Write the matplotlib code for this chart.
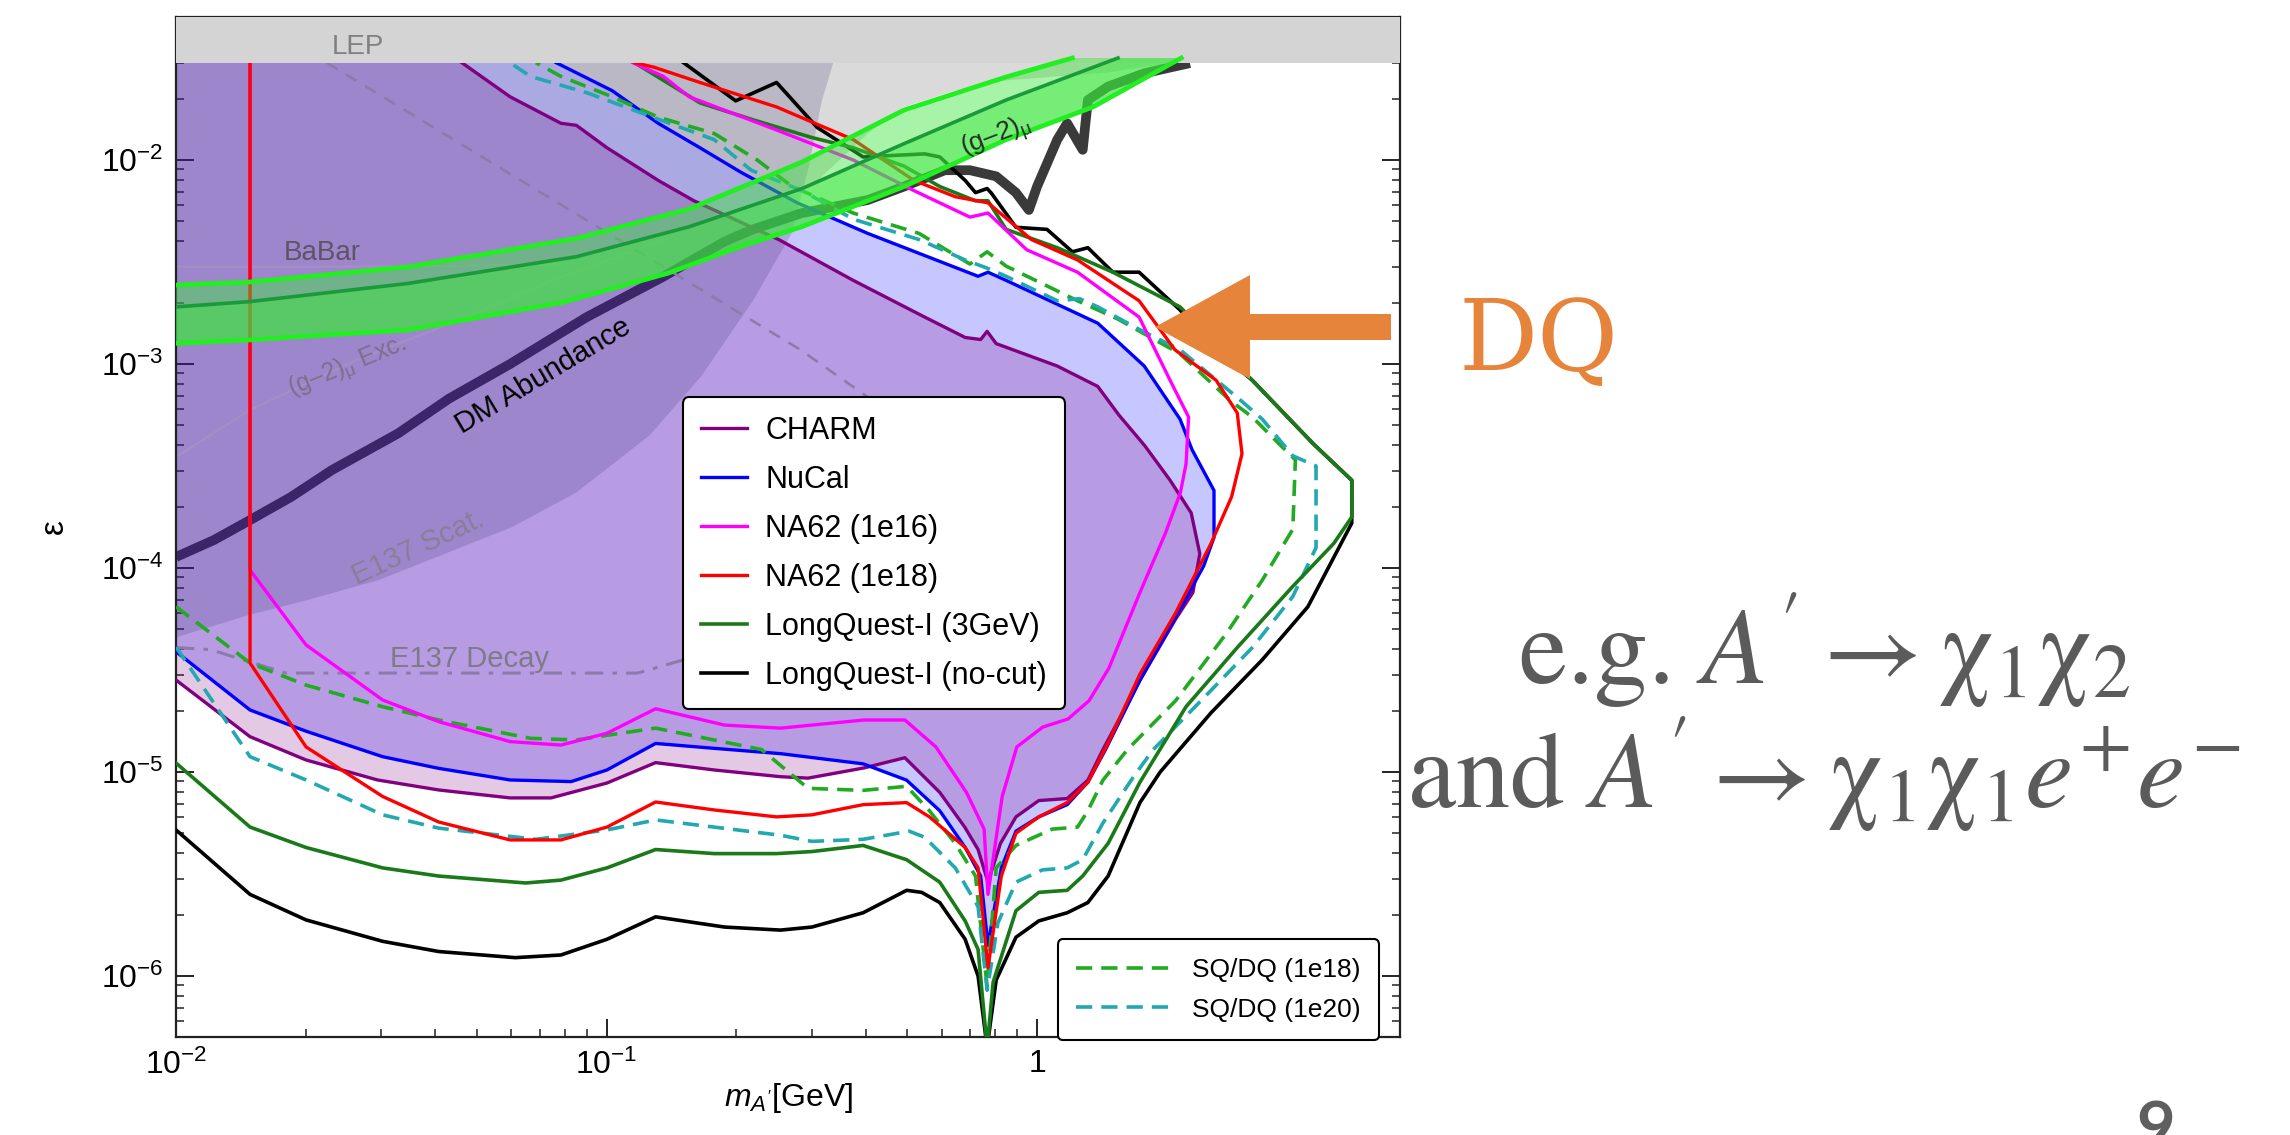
import numpy as np
import matplotlib
matplotlib.use('Agg')
import matplotlib.pyplot as plt
from matplotlib.patches import FancyArrow
from matplotlib.ticker import NullFormatter

plt.rcParams['font.family'] = 'Liberation Sans'
plt.rcParams['mathtext.fontset'] = 'custom'
plt.rcParams['mathtext.rm'] = 'Liberation Sans'
plt.rcParams['mathtext.it'] = 'Liberation Sans:italic'
plt.rcParams['mathtext.bf'] = 'Liberation Sans:bold'
plt.rcParams['mathtext.default'] = 'regular'

# all curves as log10(m_A' / GeV), log10(epsilon)
charm_lm = [-2.0, -1.828, -1.698, -1.532, -1.39, -1.224, -1.129, -0.999, -0.886, -0.75, -0.596, -0.532, -0.402, -0.307,
            -0.226, -0.168, -0.137, -0.114, -0.085, -0.049, 0.004, 0.07, 0.118, 0.153, 0.239, 0.322, 0.362, 0.378, 0.358,
            0.309, 0.25, 0.19, 0.141, 0.047, -0.095, -0.116, -0.131, -0.167, -0.261, -0.427, -0.6, -0.797, -0.88, -0.999,
            -1.07, -1.106, -1.224, -1.336]
charm_le = [-4.549, -4.827, -4.941, -5.039, -5.088, -5.127, -5.127, -5.054, -4.954, -4.99, -5.023, -5.03, -4.98, -4.93,
            -5.10, -5.27, -5.38, -5.54, -5.35, -5.22, -5.14, -5.13, -5.04, -4.89, -4.55, -4.25, -4.12, -3.93, -3.73,
            -3.57, -3.40, -3.25, -3.11, -3.01, -2.90, -2.84, -2.88, -2.87, -2.77, -2.59, -2.39, -2.20, -2.10, -1.94,
            -1.83, -1.82, -1.69, -1.523]

nucal_lm = [-2.0, -1.828, -1.698, -1.52, -1.39, -1.224, -1.082, -0.999, -0.886, -0.75, -0.596, -0.404, -0.303, -0.226,
            -0.167, -0.131, -0.114, -0.083, -0.049, 0.004, 0.07, 0.118, 0.159, 0.239, 0.322, 0.387, 0.411, 0.411, 0.36,
            0.332, 0.249, 0.141, -0.072, -0.114, -0.137, -0.393, -0.557, -0.688, -0.783, -0.88, -0.987, -1.117]
nucal_le = [-4.41, -4.696, -4.80, -4.925, -4.982, -5.039, -5.047, -4.99, -4.86, -4.884, -4.91, -4.96, -5.04, -5.19,
            -5.37, -5.51, -5.85, -5.47, -5.29, -5.22, -5.16, -5.05, -4.89, -4.55, -4.24, -3.99, -3.85, -3.62, -3.42,
            -3.27, -3.01, -2.80, -2.59, -2.55, -2.57, -2.36, -2.21, -2.06, -1.94, -1.82, -1.66, -1.523]

na62a_lm = [-1.828, -1.828, -1.698, -1.52, -1.39, -1.224, -1.106, -0.999, -0.886, -0.726, -0.596, -0.402, -0.307, -0.235,
            -0.164, -0.123, -0.114, -0.081, -0.047, 0.013, 0.072, 0.121, 0.167, 0.239, 0.298, 0.333, 0.346, 0.352, 0.309,
            0.237, 0.094, -0.024, -0.114, -0.156, -0.286, -0.427, -0.605, -0.808, -0.868, -0.939]
na62a_le = [-1.523, -4.01, -4.377, -4.647, -4.753, -4.851, -4.868, -4.81, -4.69, -4.77, -4.785, -4.745, -4.745, -4.877,
            -5.10, -5.28, -5.6, -5.12, -4.877, -4.78, -4.74, -4.65, -4.49, -4.12, -3.83, -3.63, -3.49, -3.26, -3.08,
            -2.77, -2.55, -2.44, -2.26, -2.28, -2.15, -2.0, -1.853, -1.69, -1.59, -1.523]

na62b_lm = [-1.828, -1.828, -1.698, -1.52, -1.39, -1.224, -1.106, -0.999, -0.886, -0.75, -0.605, -0.523, -0.404, -0.303,
            -0.25, -0.167, -0.137, -0.114, -0.083, -0.049, 0.004, 0.07, 0.118, 0.167, 0.239, 0.322, 0.404, 0.452, 0.476,
            0.465, 0.416, 0.32, 0.237, 0.094, -0.013, -0.114, -0.19, -0.286, -0.427, -0.605, -0.783, -0.89, -0.935]
na62b_le = [-1.523, -4.466, -4.877, -5.12, -5.245, -5.333, -5.333, -5.27, -5.147, -5.186, -5.22, -5.21, -5.16, -5.15,
            -5.22, -5.37, -5.47, -5.96, -5.51, -5.30, -5.22, -5.15, -5.05, -4.85, -4.52, -4.22, -3.88, -3.65, -3.44,
            -3.24, -3.08, -2.93, -2.69, -2.49, -2.39, -2.21, -2.18, -2.10, -1.90, -1.74, -1.62, -1.545, -1.523]

lq3_lm = [-2.0, -1.828, -1.698, -1.52, -1.39, -1.188, -1.106, -0.999, -0.886, -0.75, -0.605, -0.523, -0.404, -0.303,
          -0.226, -0.167, -0.137, -0.116, -0.102, -0.049, 0.004, 0.07, 0.106, 0.165, 0.239, 0.346, 0.465, 0.594, 0.689,
          0.731, 0.731, 0.641, 0.5, 0.332, 0.176, 0.047, -0.072, -0.114, -0.143, -0.226, -0.309, -0.427, -0.523, -0.664,
          -0.783, -0.821, -0.935]
lq3_le = [-4.956, -5.27, -5.37, -5.47, -5.51, -5.544, -5.53, -5.47, -5.38, -5.40, -5.40, -5.39, -5.36, -5.43, -5.54,
          -5.73, -5.87, -6.35, -6.03, -5.68, -5.59, -5.58, -5.51, -5.35, -5.05, -4.68, -4.39, -4.09, -3.88, -3.75, -3.57,
          -3.39, -3.08, -2.72, -2.55, -2.43, -2.34, -2.2, -2.2, -2.13, -2.03, -1.94, -1.89, -1.80, -1.72, -1.67, -1.523]

lqn_lm = [-2.0, -1.828, -1.698, -1.52, -1.39, -1.212, -1.106, -0.999, -0.886, -0.726, -0.596, -0.523, -0.404, -0.303,
          -0.268, -0.226, -0.167, -0.137, -0.116, -0.095, -0.049, 0.004, 0.07, 0.118, 0.165, 0.239, 0.286, 0.404, 0.523,
          0.629, 0.731, 0.731, 0.641, 0.5, 0.40, 0.332, 0.237, 0.176, 0.118, 0.082, 0.023, -0.049, -0.107, -0.116,
          -0.143, -0.167, -0.226, -0.261, -0.404, -0.511, -0.605, -0.70, -0.821]
lqn_le = [-5.284, -5.60, -5.725, -5.83, -5.88, -5.91, -5.897, -5.82, -5.71, -5.76, -5.775, -5.76, -5.69, -5.58, -5.59,
          -5.64, -5.82, -6.0, -6.35, -6.02, -5.81, -5.73, -5.69, -5.64, -5.51, -5.15, -5.0, -4.71, -4.45, -4.19, -3.78,
          -3.57, -3.39, -3.08, -2.90, -2.735, -2.55, -2.55, -2.43, -2.45, -2.34, -2.33, -2.16, -2.14, -2.16, -2.10,
          -1.985, -1.97, -1.985, -1.84, -1.62, -1.71, -1.523]

sq18_lm = [-2.0, -1.828, -1.698, -1.52, -1.39, -1.177, -1.07, -0.999, -0.886, -0.64, -0.532, -0.404, -0.303, -0.25,
           -0.19, -0.143, -0.116, -0.095, -0.049, 0.035, 0.094, 0.118, 0.153, 0.21, 0.322, 0.44, 0.523, 0.594, 0.6,
           0.571, 0.5, 0.449, 0.332, 0.188, 0.094, -0.072, -0.116, -0.156, -0.274, -0.427, -0.569, -0.65, -0.75, -0.88,
           -0.987, -1.106, -1.164]
sq18_le = [-4.19, -4.466, -4.574, -4.68, -4.745, -4.835, -4.843, -4.82, -4.785, -4.89, -5.08, -5.09, -5.07, -5.19,
           -5.35, -5.51, -6.05, -5.47, -5.36, -5.28, -5.27, -5.19, -5.04, -4.89, -4.65, -4.32, -4.06, -3.81, -3.47,
           -3.41, -3.26, -3.18, -2.95, -2.78, -2.69, -2.52, -2.45, -2.51, -2.36, -2.26, -2.13, -2.0, -1.87, -1.79,
           -1.69, -1.59, -1.523]

sq20_lm = [-2.0, -1.828, -1.698, -1.52, -1.39, -1.164, -0.999, -0.886, -0.75, -0.596, -0.523, -0.404, -0.297, -0.261,
           -0.19, -0.137, -0.116, -0.091, -0.049, 0.012, 0.07, 0.106, 0.153, 0.225, 0.27, 0.404, 0.5, 0.594, 0.648,
           0.648, 0.594, 0.523, 0.474, 0.332, 0.237, 0.141, 0.099, 0.047, -0.072, -0.116, -0.167, -0.274, -0.427,
           -0.546, -0.664, -0.75, -0.88, -1.046, -1.177, -1.224]
sq20_le = [-4.387, -4.925, -5.039, -5.21, -5.275, -5.33, -5.284, -5.235, -5.27, -5.31, -5.34, -5.33, -5.29, -5.32,
           -5.47, -5.66, -6.07, -5.74, -5.54, -5.48, -5.47, -5.43, -5.25, -5.02, -4.89, -4.60, -4.39, -4.14, -3.90,
           -3.50, -3.45, -3.27, -3.18, -2.93, -2.83, -2.72, -2.68, -2.69, -2.57, -2.53, -2.49, -2.39, -2.29, -2.15,
           -2.05, -1.90, -1.80, -1.67, -1.59, -1.523]

# background constraints
scat_lm = [-2.0, -1.83, -1.70, -1.53, -1.22, -1.07, -0.9, -0.78, -0.66, -0.57, -0.53, -0.50, -0.47]
scat_le = [-4.34, -4.23, -4.16, -4.06, -3.80, -3.63, -3.35, -3.06, -2.69, -2.36, -2.03, -1.71, -1.50]
gray_lm = [-1.117, -0.987, -0.88, -0.783, -0.688, -0.60, -0.52, -0.451, -0.393, -0.309, -0.19, -0.072, 0.047, 0.165,
           0.26, 0.355]
gray_le = [-1.523, -1.66, -1.82, -1.94, -2.06, -2.17, -2.12, -1.985, -1.87, -1.74, -1.66, -1.61, -1.59, -1.57, -1.54,
           -1.523]
dm_lm = [-2.0, -1.912, -1.828, -1.733, -1.638, -1.484, -1.366, -1.224, -1.046, -0.869, -0.726, -0.664, -0.546, -0.393,
         -0.309, -0.214, -0.156, -0.095, -0.049, -0.019, 0.0, 0.047, 0.07, 0.106, 0.118, 0.165, 0.249, 0.355]
dm_le = [-3.946, -3.863, -3.765, -3.652, -3.52, -3.34, -3.17, -3.0, -2.77, -2.573, -2.40, -2.343, -2.26, -2.196, -2.13,
         -2.05, -2.05, -2.08, -2.16, -2.245, -2.13, -1.90, -1.82, -1.95, -1.706, -1.64, -1.575, -1.525]
g2x_lm = [-2.0, -1.828, -1.58, -1.343, -1.106, -0.85]
g2x_le = [-3.456, -3.225, -2.98, -2.784, -2.574, -2.38]
babar_lm = [-2.0, -1.7, -1.4, -1.1]
babar_le = [-2.524, -2.524, -2.52, -2.51]
e137u_lm = [-1.65, -0.55, -0.30]
e137u_le = [-1.523, -2.93, -3.30]
e137l_lm = [-2.0, -1.92, -1.745, -0.928, -0.821, -0.72, -0.62]
e137l_le = [-4.39, -4.40, -4.515, -4.515, -4.45, -4.33, -4.15]

# (g-2)_mu band
g2up_lm = [-2.0, -1.828, -1.461, -1.07, -0.808, -0.546, -0.309, -0.072, 0.082]
g2up_le = [-2.613, -2.598, -2.524, -2.384, -2.24, -2.01, -1.755, -1.593, -1.50]
g2mid_lm = [-2.0, -1.828, -1.461, -1.07, -0.808, -0.546, -0.309, -0.072, 0.188]
g2mid_le = [-2.72, -2.694, -2.605, -2.474, -2.327, -2.14, -1.92, -1.706, -1.50]
g2lo_lm = [-2.0, -1.828, -1.461, -1.106, -0.857, -0.69, -0.546, -0.309, -0.072, 0.130, 0.335]
g2lo_le = [-2.899, -2.882, -2.833, -2.70, -2.555, -2.425, -2.327, -2.13, -1.90, -1.74, -1.50]

lep_low = -1.523


def M(a):
    return 10 ** np.asarray(a, dtype=float)


fig = plt.figure(figsize=(22.9, 11.35), dpi=100)
ax = fig.add_axes([176 / 2290, 98 / 1135, 1224 / 2290, 1020 / 1135])
ax.set_xscale('log')
ax.set_yscale('log')
ax.set_xlim(0.01, 10 ** 0.843)
ax.set_ylim(10 ** -6.299, 10 ** -1.299)

# gray region and DM line sit under the translucent exclusion fills
ax.fill(M(gray_lm + [0.355, -1.117]), M(gray_le + [-1.3, -1.3]), color='#dadada', lw=0, zorder=1)
ax.plot(M(dm_lm), M(dm_le), color='#3a3a3a', lw=7, solid_capstyle='butt', zorder=1.5)

ax.fill(M(nucal_lm + [-1.117, -2.1, -2.1]), M(nucal_le + [-1.3, -1.3, nucal_le[0]]),
        color=(0, 0, 1), alpha=0.22, lw=0, zorder=2)
ax.fill(M(charm_lm + [-1.336, -2.1, -2.1]), M(charm_le + [-1.3, -1.3, charm_le[0]]),
        color=(0.5, 0, 0.5), alpha=0.21, lw=0, zorder=2.1)
ax.fill(M(scat_lm + [-0.47, -2.1, -2.1]), M(scat_le + [-1.3, -1.3, scat_le[0]]),
        color=(60 / 255, 50 / 255, 110 / 255), alpha=0.2, lw=0, zorder=2.2)

# faint boundaries of other constraints
ax.plot(M(g2x_lm), M(g2x_le), color='#a58fc6', lw=1.5, zorder=2.5)
ax.plot(M(babar_lm), M(babar_le), color='#a58fc6', lw=1.5, zorder=2.5)
ax.plot(M(e137u_lm), M(e137u_le), color='#8c7aab', lw=1.8, ls=(0, (5, 4)), zorder=2.5)
ax.plot(M(e137l_lm), M(e137l_le), color='#8c7aab', lw=2.2, ls=(0, (6, 3, 1.5, 3)), zorder=2.5)

# experiment curves
h_charm, = ax.plot(M(charm_lm), M(charm_le), color='#800080', lw=2.4, zorder=4, label='CHARM')
h_nucal, = ax.plot(M(nucal_lm), M(nucal_le), color='#0000ff', lw=2.4, zorder=4, label='NuCal')
h_sq18, = ax.plot(M(sq18_lm), M(sq18_le), color='#22aa22', lw=2.6, ls=(0, (4.5, 2.5)), zorder=4,
                  label='SQ/DQ (1e18)')
h_sq20, = ax.plot(M(sq20_lm), M(sq20_le), color='#22a8b0', lw=2.6, ls=(0, (4.5, 2.5)), zorder=4,
                  label='SQ/DQ (1e20)')
h_lq3, = ax.plot(M(lq3_lm), M(lq3_le), color='#1a7a1a', lw=2.6, zorder=4.1, label='LongQuest-I (3GeV)')
h_lqn, = ax.plot(M(lqn_lm), M(lqn_le), color='black', lw=2.6, zorder=4.05, label='LongQuest-I (no-cut)')
h_na62a, = ax.plot(M(na62a_lm), M(na62a_le), color='#ff00ff', lw=2.4, zorder=4.2, label='NA62 (1e16)')
h_na62b, = ax.plot(M(na62b_lm), M(na62b_le), color='#ff0000', lw=2.4, zorder=4.3, label='NA62 (1e18)')

# LEP
ax.axhspan(10 ** lep_low, 1, color='#d4d4d4', lw=0, zorder=4.8)

# (g-2)_mu band drawn on top
ax.fill(M(g2up_lm + [0.335] + g2lo_lm[::-1]), M(g2up_le + [-1.50] + g2lo_le[::-1]),
        color=(60 / 255, 230 / 255, 60 / 255), alpha=0.45, lw=0, zorder=5)
ax.fill(M(g2mid_lm + [0.335] + g2lo_lm[::-1]), M(g2mid_le + [-1.50] + g2lo_le[::-1]),
        color=(60 / 255, 230 / 255, 60 / 255), alpha=0.45, lw=0, zorder=5)
ax.plot(M(g2up_lm), M(g2up_le), color='#22ee22', lw=3.4, zorder=5.5)
ax.plot(M(g2lo_lm), M(g2lo_le), color='#22ee22', lw=3.4, zorder=5.5)
ax.plot(M(g2mid_lm), M(g2mid_le), color='#1a9a3a', lw=2.6, zorder=5.5)

# labels inside the plot
ax.text(10 ** -1.577, 10 ** -1.446, 'LEP', fontsize=20, color='#808080', ha='center', va='center', zorder=6)
ax.text(10 ** -1.66, 10 ** -2.456, 'BaBar', fontsize=20, color='#5e5466', ha='center', va='center', zorder=6)
ax.text(10 ** -1.603, 10 ** -3.014, r'(g–2)$_\mu$ Exc.', fontsize=18, color='#7d6e8c', ha='center', va='center',
        rotation=22, zorder=6)
ax.text(10 ** -1.147, 10 ** -3.06, 'DM Abundance', fontsize=21, color='black', ha='center', va='center',
        rotation=31, zorder=6)
ax.text(10 ** -1.437, 10 ** -3.90, 'E137 Scat.', fontsize=21, color='#8a7d99', ha='center', va='center',
        rotation=25, zorder=6)
ax.text(10 ** -1.319, 10 ** -4.446, 'E137 Decay', fontsize=21, color='#7f7a88', ha='center', va='center', zorder=6)
ax.text(10 ** -0.095, 10 ** -1.89, r'(g–2)$_\mu$', fontsize=19, color='#203020', ha='center', va='center',
        rotation=21, zorder=6)

# axes styling
ax.set_xticks([0.01, 0.1, 1])
ax.set_xticklabels([r'$10^{-2}$', r'$10^{-1}$', '1'])
ax.set_yticks([1e-6, 1e-5, 1e-4, 1e-3, 1e-2])
ax.set_yticklabels([r'$10^{-6}$', r'$10^{-5}$', r'$10^{-4}$', r'$10^{-3}$', r'$10^{-2}$'])
ax.xaxis.set_minor_formatter(NullFormatter())
ax.yaxis.set_minor_formatter(NullFormatter())
ax.tick_params(which='both', direction='in', top=True, right=True, color='#222222', labelsize=23)
ax.tick_params(which='major', length=13, width=1.4, pad=9)
ax.tick_params(which='minor', length=6, width=1.1)
for s in ax.spines.values():
    s.set_linewidth(1.6)
    s.set_color('#222222')
ax.set_xlabel(r'$\mathit{m}_{\mathit{A}^{\prime}}$[GeV]', fontsize=23, labelpad=0)
ax.set_ylabel('ε', fontsize=24, labelpad=22)

leg1 = ax.legend(handles=[h_charm, h_nucal, h_na62a, h_na62b, h_lq3, h_lqn], loc='upper left',
                 bbox_to_anchor=(0.414, 0.627), borderaxespad=0, fontsize=22, labelspacing=0.62,
                 handlelength=1.5, handletextpad=0.6, borderpad=0.6, fancybox=True, framealpha=1,
                 edgecolor='black')
leg1.get_frame().set_linewidth(1.5)
leg1.set_zorder(10)
ax.add_artist(leg1)
leg2 = ax.legend(handles=[h_sq18, h_sq20], loc='lower right', bbox_to_anchor=(0.983, -0.003), borderaxespad=0,
                 fontsize=19, labelspacing=0.6, handlelength=3.6, handletextpad=0.8, borderpad=0.7,
                 fancybox=True, framealpha=1, edgecolor='black')
leg2.get_frame().set_linewidth(1.5)
leg2.set_zorder(10)

# slide annotations beside the chart
fig.add_artist(FancyArrow(1391 / 2290, 1 - 327 / 1135, -(1391 - 1155) / 2290, 0, width=26 / 1135,
                          head_width=104 / 1135, head_length=95 / 2290, length_includes_head=True,
                          transform=fig.transFigure, color='#e5843a', lw=0))
fig.text(1458 / 2290, 1 - 370 / 1135, 'DQ', fontsize=71, color='#e5843a', family='DejaVu Serif',
         ha='left', va='baseline')
fig.text(1824 / 2290, 1 - 684 / 1135, r"e.g. $\mathit{A}' \rightarrow \chi_1\chi_2$", fontsize=78,
         color='#5b5b5b', family='STIXGeneral', math_fontfamily='stix', ha='center', va='baseline')
fig.text(1824 / 2290, 1 - 808 / 1135, r"and $\mathit{A}' \rightarrow \chi_1\chi_1\mathit{e}^{+}\mathit{e}^{-}$",
         fontsize=78, color='#5b5b5b', family='STIXGeneral', math_fontfamily='stix', ha='center', va='baseline')
fig.text(2156 / 2290, 1 - 1100 / 1135, '9', fontsize=48, fontweight='bold', color='#5f5f5f', family='Lato',
         ha='center', va='top')

fig.savefig('out.png', dpi=100)
